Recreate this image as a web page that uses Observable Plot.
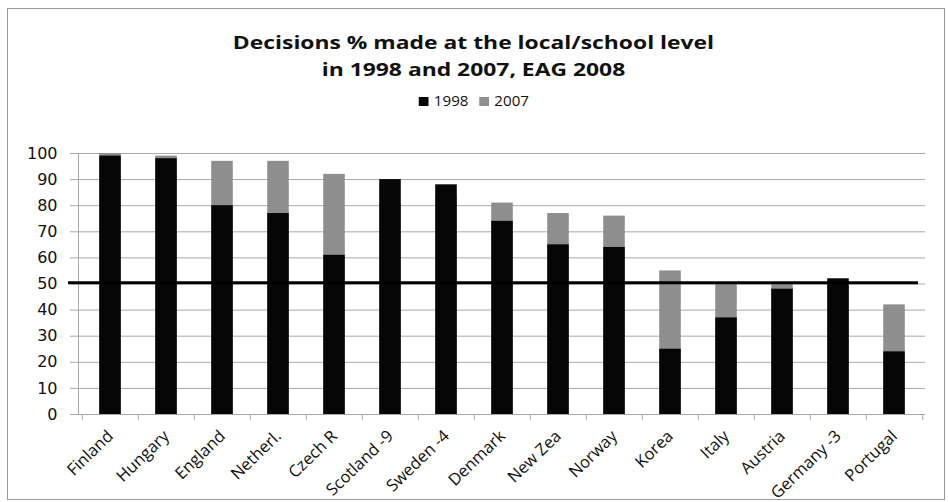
<!DOCTYPE html>
<html>
<head>
<meta charset="utf-8">
<script src="https://cdn.jsdelivr.net/npm/d3@7"></script>
<script src="https://cdn.jsdelivr.net/npm/@observablehq/plot@0.6"></script>
<style>
  body { margin: 0; background: #fff; width: 948px; height: 502px; position: relative; overflow: hidden; }
  #frame { position: absolute; left: 7px; top: 8px; width: 936px; height: 490px; border: 1px solid #9a9a9a; }
  #title { position: absolute; top: 29px; left: 0; width: 948px; text-align: center; font: bold 18px "Open Sans", sans-serif; line-height: 27px; color: #111; transform: scaleX(1.27); transform-origin: 476px 0; }
  #legend { position: absolute; top: 91px; left: 0; width: 948px; text-align: center; font: 14px "Open Sans", sans-serif; color: #111; transform: scaleX(1.08); transform-origin: 476px 0; }
  #legend span.sw { display: inline-block; width: 9px; height: 9px; margin-right: 5px; vertical-align: 0px; }
  #legend span.item { margin: 0 5px; }
  #chart { position: absolute; top: 130px; left: 0; }
</style>
</head>
<body>
<div id="frame"></div>
<div id="title">Decisions % made at the local/school level<br>in 1998 and 2007, EAG 2008</div>
<div id="legend"></div>
<div id="chart"></div>
<script>
const countries = ["Finland","Hungary","England","Netherl.","Czech R","Scotland -9","Sweden -4","Denmark","New Zea","Norway","Korea","Italy","Austria","Germany -3","Portugal"];
const values1998 = [99, 98, 80, 77, 61, 90, 88, 74, 65, 64, 25, 37, 48, 52, 24];
const values2007 = [100, 99, 97, 97, 92, 81, 84, 81, 77, 76, 55, 50, 50, 49, 42];
const seriesNames = ["1998", "2007"];
const seriesColors = ["#060606", "#8e8e8e"];
const yTicks = [0, 10, 20, 30, 40, 50, 60, 70, 80, 90, 100];
const referenceLine = [50.5];

const rows1998 = countries.map((c, i) => ({country: c, value: values1998[i]}));
const rows2007 = countries.map((c, i) => ({country: c, value: values2007[i]}));

// legend
const legend = document.getElementById("legend");
seriesNames.forEach((s, i) => {
  const item = document.createElement("span");
  item.className = "item";
  const sw = document.createElement("span");
  sw.className = "sw";
  sw.style.background = seriesColors[i];
  item.appendChild(sw);
  item.appendChild(document.createTextNode(s));
  legend.appendChild(item);
});

const W = 948, H = 370, mL = 78, mR = 23;
const step = (W - mL - mR) / countries.length;
const inset = step * 0.305;

const chart = Plot.plot({
  width: W,
  height: H,
  marginTop: 23,
  marginBottom: 86,
  marginLeft: mL,
  marginRight: mR,
  style: {fontFamily: "'Open Sans', sans-serif", background: "transparent", overflow: "visible"},
  x: {domain: countries, padding: 0, label: null},
  y: {domain: [0, 100], label: null},
  marks: [
    Plot.gridY(yTicks, {stroke: "#a8a8a8", strokeOpacity: 1}),
    Plot.frame({anchor: "left", stroke: "#a8a8a8"}),
    Plot.axisY(yTicks, {tickSize: 8, tickPadding: 13, stroke: "#a8a8a8", fill: "#111", fontSize: 16, fontFamily: "'DejaVu Sans', sans-serif", label: null}),
    Plot.barY(rows2007, {x: "country", y: "value", fill: seriesColors[1], insetLeft: inset, insetRight: inset}),
    Plot.barY(rows1998, {x: "country", y: "value", fill: seriesColors[0], insetLeft: inset, insetRight: inset}),
    Plot.ruleX(countries, {x: d => d, dx: -step / 2, y1: 0, y2: 0, insetBottom: -6, stroke: "#a8a8a8"}),
    Plot.ruleX(countries.slice(-1), {x: d => d, dx: step / 2, y1: 0, y2: 0, insetBottom: -6, stroke: "#a8a8a8"}),
    Plot.ruleY(referenceLine, {stroke: "#000", strokeWidth: 3, insetLeft: -10, insetRight: 7}),
    Plot.axisX({tickSize: 0, tickPadding: 19, tickRotate: -44, fontSize: 16.5, fill: "#111", label: null})
  ]
});
document.getElementById("chart").appendChild(chart);
</script>
</body>
</html>
